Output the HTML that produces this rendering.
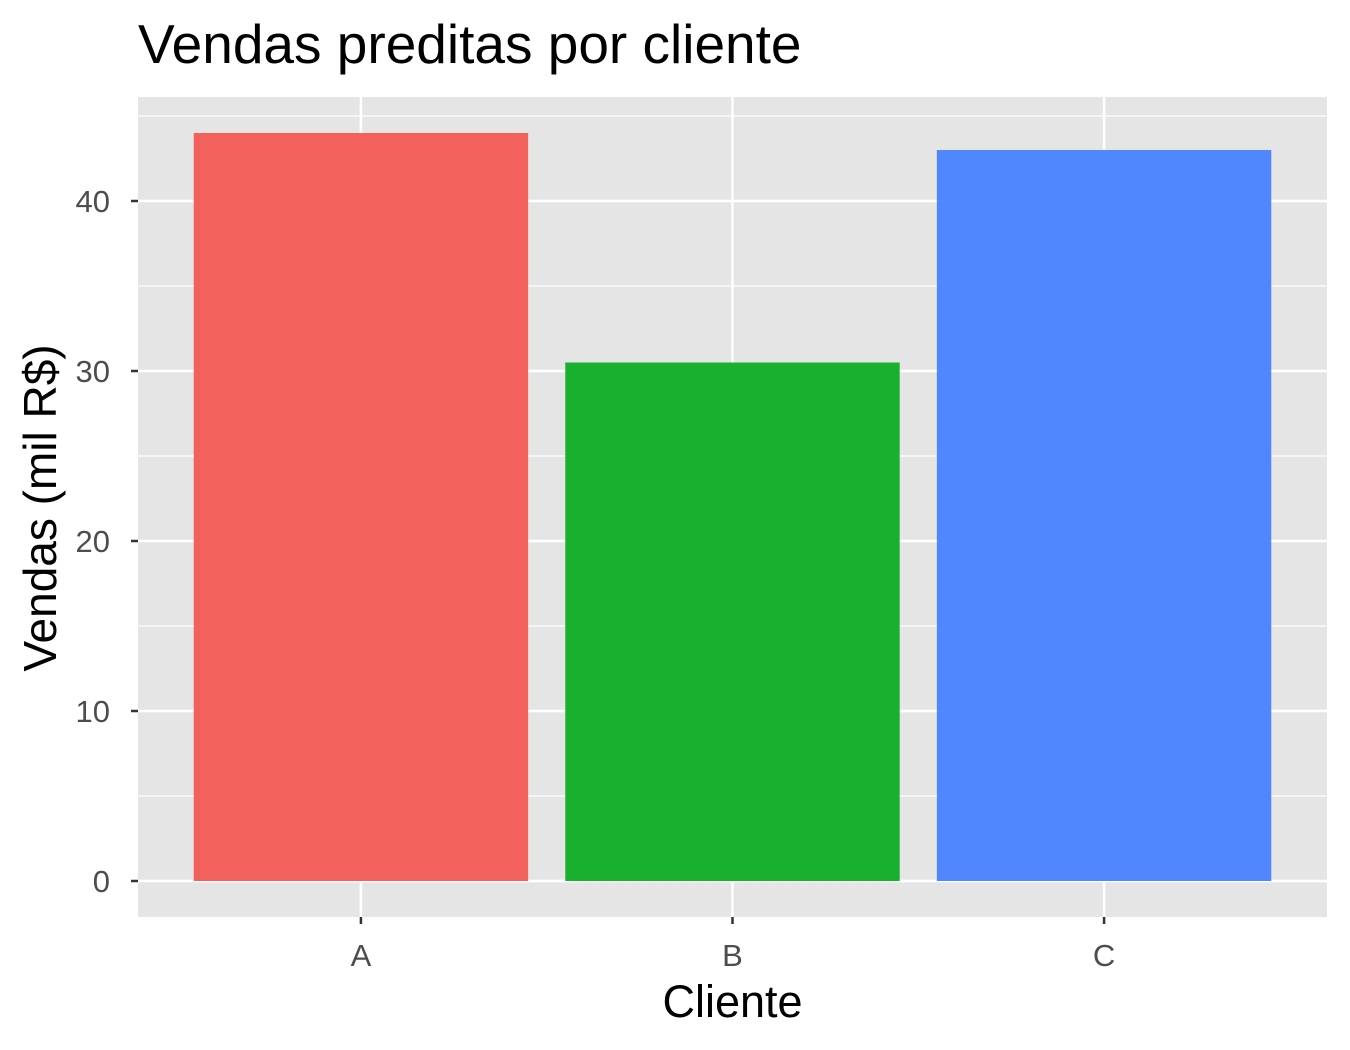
<!DOCTYPE html>
<html><head><meta charset="utf-8"><style>
body{margin:0;background:#fff;}
svg{display:block;font-family:"Liberation Sans",Arial,sans-serif;}
</style></head><body>
<svg id="chart" width="1350" height="1050"></svg>
<script>
const categories = ["A","B","C"];
const values = [44, 30.5, 43];
const colors = ["#F3615C","#1AB02F","#5087FF"];
const yTicks = [0,10,20,30,40];
const yMinor = [5,15,25,35,45];

const NS="http://www.w3.org/2000/svg";
const svg=document.getElementById('chart');
const P={l:138,r:1327,t:97,b:917};
function y(v){return 881-17*v;}
const step=(P.r-P.l)/(categories.length+0.2);
function x(i){return P.l+step*(0.6+i);}
function mk(tag,a,p){const e=document.createElementNS(NS,tag);for(const k in a)e.setAttribute(k,a[k]);(p||svg).appendChild(e);return e;}

const bg=mk('rect',{x:P.l,y:P.t,width:P.r-P.l,height:P.b-P.t,fill:'#E5E5E5'});


yMinor.forEach(v=>{if(y(v)>P.t){const l=mk('line',{x1:P.l,x2:P.r,y1:y(v),y2:y(v),stroke:'#fff','stroke-width':1.2});

}});
yTicks.forEach(v=>{const l=mk('line',{x1:P.l,x2:P.r,y1:y(v),y2:y(v),stroke:'#fff','stroke-width':2.5});


const t=mk('line',{x1:P.l-7,x2:P.l,y1:y(v),y2:y(v),stroke:'#333','stroke-width':2.5});


const tx=mk('text',{x:P.l-28,y:y(v)+11,'text-anchor':'end','font-size':31,fill:'#4D4D4D'});tx.textContent=v;

});
categories.forEach((c,i)=>{const l=mk('line',{x1:x(i),x2:x(i),y1:P.t,y2:P.b,stroke:'#fff','stroke-width':2.5});

});
categories.forEach((c,i)=>{const w=step*0.9;
const r=mk('rect',{x:x(i)-w/2,y:y(values[i]),width:w,height:y(0)-y(values[i]),fill:colors[i]});


const t=mk('line',{x1:x(i),x2:x(i),y1:P.b,y2:P.b+7,stroke:'#333','stroke-width':2.5});


const tx=mk('text',{x:x(i),y:966,'text-anchor':'middle','font-size':31,fill:'#4D4D4D'});tx.textContent=c;

});
const xt=mk('text',{x:(P.l+P.r)/2,y:1017,'text-anchor':'middle','font-size':45,fill:'#000'});xt.textContent='Cliente';


const yt=mk('text',{x:0,y:0,'text-anchor':'middle','font-size':46,fill:'#000',transform:'translate(56,508) rotate(-90)'});yt.textContent='Vendas (mil R$)';


const ti=mk('text',{x:138,y:63,'font-size':55,fill:'#000'});ti.textContent='Vendas preditas por cliente';


</script>
</body></html>
